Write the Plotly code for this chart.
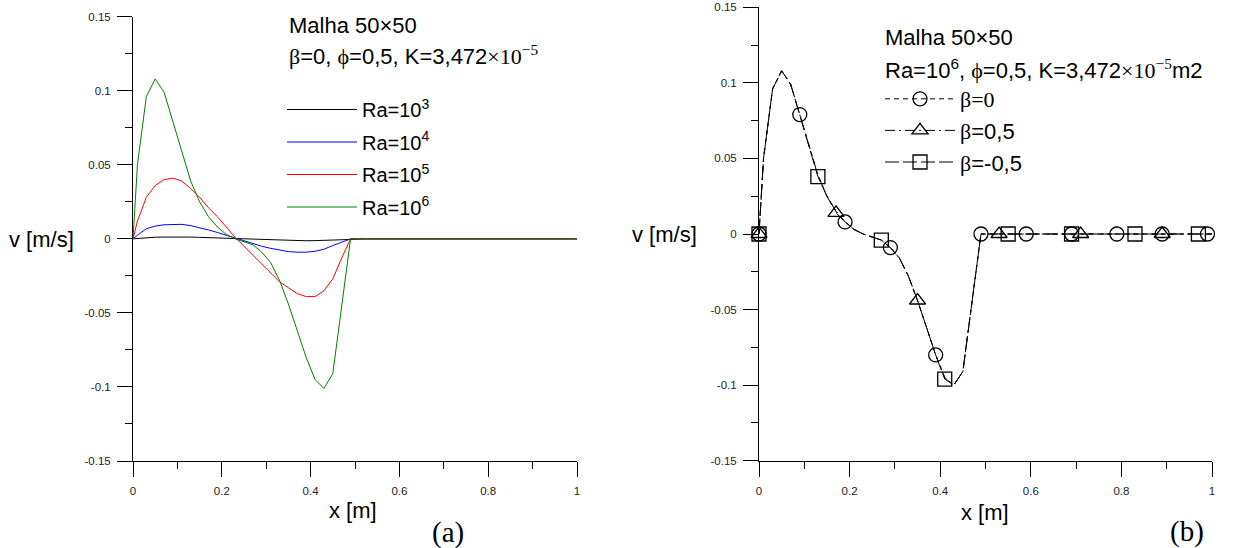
import plotly.graph_objects as go

# ---------------- data ----------------
x_grid = [0.0, 0.01, 0.03, 0.05, 0.07, 0.09, 0.11, 0.13, 0.15, 0.17, 0.19, 0.21, 0.23,
          0.25, 0.27, 0.29, 0.31, 0.33, 0.35, 0.37, 0.39, 0.41, 0.43, 0.45, 0.47, 0.49,
          0.51, 0.53, 0.55, 0.57, 0.59, 0.61, 0.63, 0.65, 0.67, 0.69, 0.71, 0.73, 0.75,
          0.77, 0.79, 0.81, 0.83, 0.85, 0.87, 0.89, 0.91, 0.93, 0.95, 0.97, 0.99, 1.0]

v_ra3 = [0.0, 0.0003, 0.0008, 0.0011, 0.0012, 0.0013, 0.0013, 0.0012, 0.0010, 0.0008, 0.0005,
         0.0003, 0.0000, -0.0002, -0.0005, -0.0007, -0.0009, -0.0011, -0.0012, -0.0013, -0.0013,
         -0.0012, -0.0010, -0.0007, -0.0003, 0.0,
         0.0, 0.0, 0.0, 0.0, 0.0, 0.0, 0.0, 0.0, 0.0, 0.0, 0.0, 0.0, 0.0, 0.0, 0.0, 0.0, 0.0,
         0.0, 0.0, 0.0, 0.0, 0.0, 0.0, 0.0, 0.0, 0.0]
v_ra4 = [0.0, 0.0025, 0.0068, 0.0086, 0.0095, 0.0099, 0.0098, 0.0089, 0.0076, 0.0060, 0.0043,
         0.0024, 0.0004, -0.0015, -0.0032, -0.0050, -0.0064, -0.0077, -0.0086, -0.0090, -0.0090,
         -0.0084, -0.0070, -0.0045, -0.0020, 0.0,
         0.0, 0.0, 0.0, 0.0, 0.0, 0.0, 0.0, 0.0, 0.0, 0.0, 0.0, 0.0, 0.0, 0.0, 0.0, 0.0, 0.0,
         0.0, 0.0, 0.0, 0.0, 0.0, 0.0, 0.0, 0.0, 0.0]
v_ra5 = [0.0, 0.012, 0.028, 0.036, 0.040, 0.041, 0.039, 0.034, 0.028, 0.021, 0.015,
         0.008, 0.001, -0.005, -0.011, -0.017, -0.023, -0.029, -0.033, -0.037, -0.039,
         -0.039, -0.035, -0.027, -0.013, 0.0,
         0.0, 0.0, 0.0, 0.0, 0.0, 0.0, 0.0, 0.0, 0.0, 0.0, 0.0, 0.0, 0.0, 0.0, 0.0, 0.0, 0.0,
         0.0, 0.0, 0.0, 0.0, 0.0, 0.0, 0.0, 0.0, 0.0]
v_ra6 = [0.0, 0.050, 0.096, 0.108, 0.099, 0.079, 0.058, 0.039, 0.025, 0.015, 0.008,
         0.003, 0.000, -0.002, -0.004, -0.009, -0.016, -0.028, -0.044, -0.062, -0.080,
         -0.095, -0.101, -0.091, -0.046, 0.0,
         0.0, 0.0, 0.0, 0.0, 0.0, 0.0, 0.0, 0.0, 0.0, 0.0, 0.0, 0.0, 0.0, 0.0, 0.0, 0.0, 0.0,
         0.0, 0.0, 0.0, 0.0, 0.0, 0.0, 0.0, 0.0, 0.0]

# panel (b): Ra=10^6, three beta values (curves coincide in the picture)
v_beta_0 = [0.0, 0.050, 0.096, 0.108, 0.099, 0.079, 0.058, 0.039, 0.025, 0.015, 0.008,
            0.003, 0.000, -0.002, -0.004, -0.009, -0.016, -0.028, -0.044, -0.062, -0.080,
            -0.095, -0.100, -0.091, -0.046, 0.0,
            0.0, 0.0, 0.0, 0.0, 0.0, 0.0, 0.0, 0.0, 0.0, 0.0, 0.0, 0.0, 0.0, 0.0, 0.0, 0.0, 0.0,
            0.0, 0.0, 0.0, 0.0, 0.0, 0.0, 0.0, 0.0, 0.0]
v_beta_p05 = [0.0, 0.050, 0.096, 0.108, 0.099, 0.079, 0.058, 0.039, 0.025, 0.014, 0.008,
              0.003, 0.000, -0.002, -0.004, -0.009, -0.016, -0.028, -0.044, -0.062, -0.080,
              -0.095, -0.100, -0.091, -0.046, 0.0,
              0.0, 0.0, 0.0, 0.0, 0.0, 0.0, 0.0, 0.0, 0.0, 0.0, 0.0, 0.0, 0.0, 0.0, 0.0, 0.0, 0.0,
              0.0, 0.0, 0.0, 0.0, 0.0, 0.0, 0.0, 0.0, 0.0]
v_beta_m05 = [0.0, 0.050, 0.096, 0.108, 0.099, 0.079, 0.058, 0.038, 0.025, 0.015, 0.008,
              0.003, 0.000, -0.002, -0.004, -0.009, -0.016, -0.028, -0.044, -0.062, -0.080,
              -0.096, -0.100, -0.091, -0.046, 0.0,
              0.0, 0.0, 0.0, 0.0, 0.0, 0.0, 0.0, 0.0, 0.0, 0.0, 0.0, 0.0, 0.0, 0.0, 0.0, 0.0, 0.0,
              0.0, 0.0, 0.0, 0.0, 0.0, 0.0, 0.0, 0.0, 0.0]

ra_names = ["Ra=10<sup>3</sup>", "Ra=10<sup>4</sup>", "Ra=10<sup>5</sup>", "Ra=10<sup>6</sup>"]
SERIF = "Liberation Serif"
beta_names = [f"<span style='font-family:{SERIF}'>β=0</span>",
              f"<span style='font-family:{SERIF}'>β</span>=0,5",
              f"<span style='font-family:{SERIF}'>β</span>=-0,5"]

x_tickvals = [0, 0.2, 0.4, 0.6, 0.8, 1]
x_ticktext = ["0", "0.2", "0.4", "0.6", "0.8", "1"]
y_tickvals = [-0.15, -0.1, -0.05, 0, 0.05, 0.1, 0.15]
y_ticktext = ["-0.15", "-0.1", "-0.05", "0", "0.05", "0.1", "0.15"]

# ---------------- styles ----------------
W, H = 1238, 548
SANS = "Liberation Sans"
ra_colors = ["#000000", "#0000ff", "#ff0000", "#008000"]
beta_dashes = ["5px,4px", "10px,4px,2px,4px", "14px,4px"]
beta_symbols = ["circle-open", "triangle-up-open", "square-open"]
beta_steps = [5, 9, 7]

fig = go.Figure()

for i, (v, name, c) in enumerate(zip([v_ra3, v_ra4, v_ra5, v_ra6], ra_names, ra_colors)):
    fig.add_trace(go.Scatter(x=x_grid, y=v, mode="lines", name=name,
                             line=dict(color=c, width=1), xaxis="x", yaxis="y",
                             legend="legend", legendgroup=f"ra{i}"))

for v, name, d, sym, st in zip([v_beta_0, v_beta_p05, v_beta_m05], beta_names,
                               beta_dashes, beta_symbols, beta_steps):
    fig.add_trace(go.Scatter(x=x_grid, y=v, mode="lines", showlegend=False,
                             line=dict(color="black", width=1, dash=d),
                             xaxis="x2", yaxis="y2"))
    fig.add_trace(go.Scatter(x=x_grid[::st], y=v[::st], mode="markers", showlegend=False,
                             marker=dict(symbol=sym, size=14, color="black",
                                         line=dict(width=1.3, color="black")),
                             cliponaxis=False, xaxis="x2", yaxis="y2"))
    fig.add_trace(go.Scatter(x=[None], y=[None], mode="lines+markers", name=name,
                             line=dict(color="black", width=1, dash=d),
                             marker=dict(symbol=sym, size=14, color="black",
                                         line=dict(width=1.3, color="black")),
                             xaxis="x2", yaxis="y2", legend="legend2"))

tickfont = dict(family=SANS, size=11.5, color="#222")


def xaxis(domain, anchor):
    return dict(domain=domain, anchor=anchor, range=[0, 1], showline=True,
                linecolor="black", linewidth=1, ticks="outside", ticklen=15,
                tickwidth=1, tickcolor="black", tickmode="array",
                tickvals=x_tickvals, ticktext=x_ticktext, tickfont=tickfont,
                showgrid=False, zeroline=False, ticklabelstandoff=4, automargin=False,
                minor=dict(ticks="outside", ticklen=7, tickwidth=1, tickcolor="black",
                           tick0=0, dtick=0.1, showgrid=False))


def yaxis(domain, anchor):
    return dict(domain=domain, anchor=anchor, range=[-0.15, 0.15], showline=True,
                linecolor="black", linewidth=1, ticks="outside", ticklen=15,
                tickwidth=1, tickcolor="black", tickmode="array",
                tickvals=y_tickvals, ticktext=y_ticktext, tickfont=tickfont,
                showgrid=False, zeroline=False, ticklabelstandoff=4, automargin=False,
                minor=dict(ticks="outside", ticklen=7, tickwidth=1, tickcolor="black",
                           tick0=0, dtick=0.025, showgrid=False))


def px_x(p):
    return p / W


def px_y(p):
    return (H - p) / H


ann_font = dict(family=SANS, size=22, color="black")
annotations = [
    dict(text="Malha 50×50", x=px_x(287), y=px_y(25), xanchor="left", yanchor="middle"),
    dict(text=f"<span style='font-family:{SERIF}'>β</span>=0, "
              f"<span style='font-family:{SERIF}'>ϕ</span>=0,5, K=3,472"
              f"<span style='font-family:{SERIF}'>×10<sup>−5</sup></span>",
         x=px_x(287), y=px_y(55), xanchor="left", yanchor="middle"),
    dict(text="Malha 50×50", x=px_x(883), y=px_y(38), xanchor="left", yanchor="middle"),
    dict(text=f"Ra=10<sup>6</sup>, <span style='font-family:{SERIF}'>ϕ</span>=0,5, K=3,472"
              f"<span style='font-family:{SERIF}'>×10<sup>−5</sup></span>m2",
         x=px_x(883), y=px_y(69), xanchor="left", yanchor="middle"),
    dict(text="v [m/s]", x=px_x(76), y=px_y(239), xanchor="right", yanchor="middle"),
    dict(text="v [m/s]", x=px_x(699), y=px_y(234), xanchor="right", yanchor="middle"),
    dict(text="x [m]", x=px_x(353), y=px_y(510), xanchor="center", yanchor="middle"),
    dict(text="x [m]", x=px_x(985), y=px_y(512), xanchor="center", yanchor="middle"),
    dict(text="(a)", x=px_x(448), y=px_y(532), xanchor="center", yanchor="middle",
         font=dict(family=SERIF, size=29, color="black")),
    dict(text="(b)", x=px_x(1187), y=px_y(531), xanchor="center", yanchor="middle",
         font=dict(family=SERIF, size=29, color="black")),
]
for a in annotations:
    a.setdefault("font", ann_font)
    a.update(xref="paper", yref="paper", showarrow=False)

fig.update_layout(
    template="none",
    width=W, height=H, autosize=False,
    margin=dict(l=0, r=0, t=0, b=0, pad=0),
    paper_bgcolor="white", plot_bgcolor="white",
    font=dict(family=SANS, color="black"),
    xaxis=xaxis([133 / W, 577 / W], "y"),
    yaxis=yaxis([px_y(461), px_y(16.7)], "x"),
    xaxis2=xaxis([759 / W, 1212 / W], "y2"),
    yaxis2=yaxis([px_y(460.7), px_y(7.3)], "x2"),
    legend=dict(x=px_x(282), y=px_y(90), xanchor="left", yanchor="top",
                bgcolor="rgba(0,0,0,0)", borderwidth=0, itemwidth=70,
                traceorder="grouped", tracegroupgap=3.5,
                font=dict(family=SANS, size=20, color="black")),
    legend2=dict(x=px_x(880), y=px_y(78), xanchor="left", yanchor="top",
                 bgcolor="rgba(0,0,0,0)", borderwidth=0, itemwidth=70,
                 font=dict(family=SANS, size=22, color="black")),
    annotations=annotations,
    showlegend=True,
)

fig.write_html(
    "out.html",
    config={"displayModeBar": False},
    post_script="document.body.style.margin='0px';document.body.style.padding='0px';"
                "document.body.style.overflow='hidden';",
)
